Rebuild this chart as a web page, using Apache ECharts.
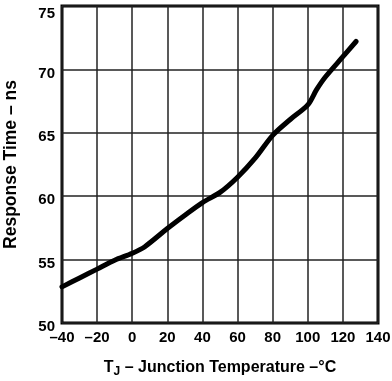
<!DOCTYPE html>
<html>
<head>
<meta charset="utf-8">
<script src="https://cdn.jsdelivr.net/npm/echarts@6/dist/echarts.min.js"></script>
<style>
  html, body { margin: 0; padding: 0; background: #fff; }
  #chart { width: 392px; height: 381px; }
</style>
</head>
<body>
<div id="chart"></div>
<script>
// Junction temperature (°C) and response time (ns)
const temperatures = [-40, -30, -20, -10, 0, 7, 20, 30, 40, 50, 60, 70, 80, 90, 100, 105, 110, 120, 127.5];
const responseTimes = [52.85, 53.55, 54.25, 54.95, 55.5, 56.0, 57.45, 58.5, 59.5, 60.3, 61.5, 63.0, 64.8, 66.05, 67.2, 68.4, 69.4, 71.0, 72.2];

const xTicks = { min: -40, max: 140, step: 20 };
const yTicks = { min: 50, max: 75, step: 5 };

const narrow = '"Liberation Sans Narrow", "Arial Narrow", sans-serif';
const font = '"Liberation Sans", Arial, Helvetica, sans-serif';

const chart = echarts.init(document.getElementById('chart'), null, { renderer: 'canvas' });

const tickText = { fontFamily: narrow, fontWeight: 'bold', fontSize: 15, color: '#000' };

chart.setOption({
  animation: false,
  backgroundColor: '#fff',
  grid: {
    left: 62, right: 14, top: 6, bottom: 58,
    outerBoundsMode: 'none',
    containLabel: false,
    show: true, borderColor: '#000', borderWidth: 3, backgroundColor: 'transparent'
  },
  xAxis: {
    type: 'value',
    min: xTicks.min, max: xTicks.max, interval: xTicks.step,
    axisLine: { show: false },
    axisTick: { show: false },
    splitLine: { show: true, lineStyle: { color: '#222', width: 1.5 } },
    axisLabel: Object.assign({
      margin: 7,
      formatter: v => (v < 0 ? '\u2013' + Math.abs(v) : String(v))
    }, tickText),
    name: '{t|T}{sub|J}{t| \u2013 Junction Temperature \u2013\u00b0C}',
    nameLocation: 'middle',
    nameGap: 35,
    nameTextStyle: {
      rich: {
        t: { fontFamily: narrow, fontWeight: 'bold', fontSize: 16, color: '#000' },
        sub: { fontFamily: narrow, fontWeight: 'bold', fontSize: 12, color: '#000', verticalAlign: 'bottom', padding: [8, 0, 0, 0] }
      }
    }
  },
  yAxis: {
    type: 'value',
    min: yTicks.min, max: yTicks.max, interval: yTicks.step,
    axisLine: { show: false },
    axisTick: { show: false },
    splitLine: { show: true, lineStyle: { color: '#222', width: 1.5 } },
    axisLabel: {
      margin: 7,
      formatter: v => (v === yTicks.max ? '{top|' + v + '}' : '{n|' + v + '}'),
      rich: {
        n: Object.assign({ padding: [8, 0, 0, 0] }, tickText),
        top: Object.assign({ padding: [16, 0, 0, 0] }, tickText)
      }
    },
    name: 'Response Time \u2013 ns',
    nameLocation: 'middle',
    nameGap: 42,
    nameTextStyle: { fontFamily: font, fontWeight: 'bold', fontSize: 17.5, color: '#000' }
  },
  series: [{
    type: 'line',
    data: temperatures.map((t, i) => [t, responseTimes[i]]),
    showSymbol: false,
    smooth: 0.3,
    lineStyle: { color: '#000', width: 5, cap: 'round' }
  }]
});
</script>
</body>
</html>
